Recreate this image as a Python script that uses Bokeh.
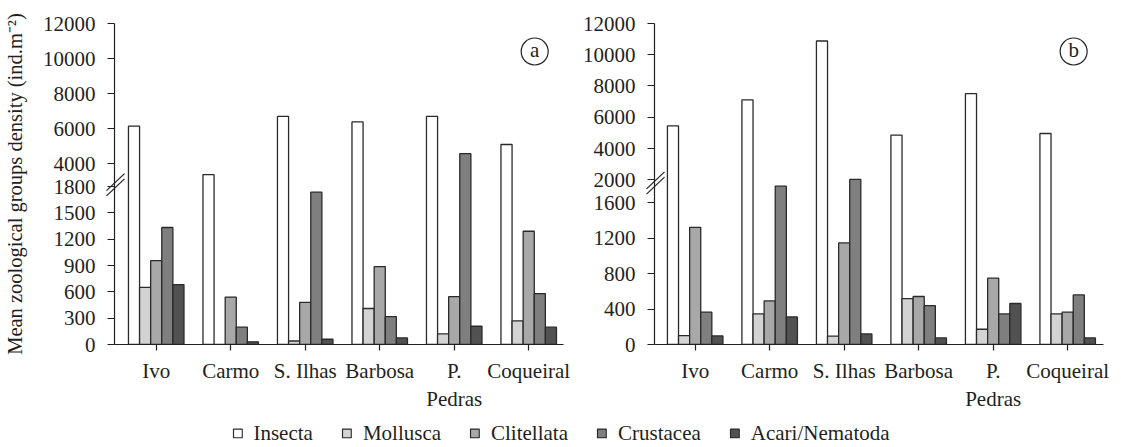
import numpy as np
from bokeh.plotting import figure
from bokeh.models import Range1d, FixedTicker, Legend, LegendItem, ColumnDataSource
from bokeh.layouts import row, column
from bokeh.embed import file_html
from bokeh.resources import INLINE
from bokeh.core.properties import value

# Sampling sites and zoological groups
sites = ["Ivo", "Carmo", "S. Ilhas", "Barbosa", "P. Pedras", "Coqueiral"]
site_labels = ["Ivo", "Carmo", "S. Ilhas", "Barbosa", "P.\nPedras", "Coqueiral"]
groups = ["Insecta", "Mollusca", "Clitellata", "Crustacea", "Acari/Nematoda"]

# Mean density (ind.m-2), panel (a)
insecta_a = [6150, 3380, 6700, 6390, 6700, 5100]
mollusca_a = [650, 0, 40, 410, 120, 270]
clitellata_a = [955, 540, 480, 888, 545, 1290]
crustacea_a = [1333, 197, 1735, 318, 4580, 580]
acari_a = [683, 30, 60, 75, 208, 197]

# Mean density (ind.m-2), panel (b)
insecta_b = [5450, 7110, 10880, 4850, 7510, 4960]
mollusca_b = [100, 345, 94, 518, 172, 345]
clitellata_b = [1320, 491, 1145, 541, 747, 364]
crustacea_b = [364, 1784, 1860, 439, 345, 559]
acari_b = [97, 311, 119, 74, 462, 74]

# Axis ticks of the broken y axes (lower segment / upper segment)
lower_ticks_a = [0, 300, 600, 900, 1200, 1500, 1800]
upper_ticks_a = [4000, 6000, 8000, 10000, 12000]
lower_ticks_b = [0, 400, 800, 1200, 1600]
upper_ticks_b = [2000, 4000, 6000, 8000, 10000, 12000]

colors = ["#ffffff", "#d3d3d3", "#a8a8a8", "#7f7f7f", "#515151"]
FONT = "Liberation Serif"
FSIZE = "21px"
INK = "#231f20"
BAR_W = 0.149
FRAME_W = 449
FRAME_H = 321
UNIT_PX = 74.5


def make_panel(series, tag, lo_ticks, hi_ticks, lo_end, hi_start, split,
               x_start, width, min_left, min_right, ylabel=None):
    p = figure(width=width, height=419,
               x_range=Range1d(x_start, x_start + FRAME_W / UNIT_PX),
               y_range=Range1d(0, lo_end),
               output_backend="svg", toolbar_location=None,
               min_border_left=min_left, min_border_right=min_right,
               min_border_top=23, min_border_bottom=75)
    p.extra_y_ranges = {"upper": Range1d(hi_start, 12000)}
    p.outline_line_color = None
    p.xgrid.visible = False
    p.ygrid.visible = False
    p.background_fill_color = "white"
    p.border_fill_color = "white"

    # bars: values below the break use the lower scale, others the upper one
    for gi, vals in enumerate(series):
        xs = [i + (gi - 2) * BAR_W for i in range(len(vals))]
        lo = dict(x=[x for x, v in zip(xs, vals) if v <= split],
                  top=[v for v in vals if v <= split])
        hi = dict(x=[x for x, v in zip(xs, vals) if v > split],
                  top=[v for v in vals if v > split])
        style = dict(width=BAR_W, fill_color=colors[gi], line_color="#2a2a2a",
                     line_width=1.3)
        if lo["x"]:
            p.vbar(x="x", top="top", bottom=0, source=ColumnDataSource(lo), **style)
        if hi["x"]:
            p.vbar(x="x", top="top", bottom=hi_start, y_range_name="upper",
                   source=ColumnDataSource(hi), **style)

    # y axis: lower ticks plus upper ticks placed on the shared frame
    def to_lower(u):
        return round((u - hi_start) / (12000 - hi_start) * lo_end, 4)

    pos = list(lo_ticks) + [to_lower(u) for u in hi_ticks]
    overrides = {float(t): str(t) for t in lo_ticks}
    overrides.update({to_lower(u): str(u) for u in hi_ticks})
    ax = p.yaxis[0]
    ax.ticker = FixedTicker(ticks=pos)
    ax.major_label_overrides = overrides
    ax.major_tick_in = 0
    ax.major_tick_out = 7
    ax.minor_tick_line_color = None
    ax.major_label_standoff = 12
    if ylabel:
        ax.axis_label = ylabel
        ax.axis_label_text_font = FONT
        ax.axis_label_text_font_size = "20.5px"
        ax.axis_label_text_font_style = "normal"
        ax.axis_label_text_color = INK
        ax.axis_label_standoff = 14

    xa = p.xaxis[0]
    xa.ticker = FixedTicker(ticks=list(range(len(sites))))
    xa.major_label_overrides = {i: s for i, s in enumerate(site_labels)}
    xa.major_tick_in = 0
    xa.major_tick_out = 6
    xa.minor_tick_line_color = None
    xa.major_label_standoff = 8

    for a in (ax, xa):
        a.axis_line_color = INK
        a.axis_line_width = 1.2
        a.major_tick_line_color = INK
        a.major_tick_line_width = 1.2
        a.major_label_text_font = FONT
        a.major_label_text_font_size = FSIZE
        a.major_label_text_color = INK

    # break marks across the y axis
    ypx = lo_end / FRAME_H
    xpx = 1 / UNIT_PX
    yc = 1820
    xc = x_start + 1 * xpx
    x0, x1, y0, y1 = [], [], [], []
    for off in (-2.6, 2.6):
        x0.append(xc - 9 * xpx)
        x1.append(xc + 9 * xpx)
        y0.append(yc - (8.5 + off) * ypx)
        y1.append(yc + (8.5 - off) * ypx)
    p.segment(x0=x0, y0=y0, x1=x1, y1=y1, line_color=INK, line_width=1.2,
              level="overlay")

    # panel tag in a circle
    hpx = (12000 - hi_start) / FRAME_H
    tx = 5 + 0.08
    ty = 12000 - 28 * hpx
    p.scatter(x=[tx], y=[ty], marker="circle", size=27, fill_color="white",
              line_color=INK, line_width=1.2, y_range_name="upper")
    p.text(x=[tx], y=[ty + 1.5 * hpx], text=[tag], text_align="center",
           text_baseline="middle", text_font=value(FONT),
           text_font_size=FSIZE, text_color=INK, y_range_name="upper")
    return p


series_a = [insecta_a, mollusca_a, clitellata_a, crustacea_a, acari_a]
series_b = [insecta_b, mollusca_b, clitellata_b, crustacea_b, acari_b]

pa = make_panel(series_a, "a", lower_ticks_a, upper_ticks_a,
                lo_end=1800 * FRAME_H / 158, hi_start=-6303, split=1800,
                x_start=-0.56, width=572, min_left=114, min_right=9,
                ylabel="Mean zoological groups density (ind.m\u207b\u00b2)")
pb = make_panel(series_b, "b", lower_ticks_b, upper_ticks_b,
                lo_end=400 * FRAME_H / 35.5, hi_start=-8544, split=2000,
                x_start=-0.546, width=549, min_left=82, min_right=18)

# legend strip; swatch renderers hold a NaN point so only the key is drawn
lf = figure(width=1121, height=28, x_range=Range1d(0, 1), y_range=Range1d(0, 1),
            output_backend="svg", toolbar_location=None, min_border=0)
lf.axis.visible = False
lf.xgrid.visible = False
lf.ygrid.visible = False
lf.outline_line_color = None
items = []
for g, c in zip(groups, colors):
    src = ColumnDataSource(dict(x=np.array([np.nan]), top=np.array([np.nan])))
    r = lf.vbar(x="x", top="top", bottom=0, width=0.1, source=src,
                fill_color=c, line_color="#2a2a2a", line_width=1.2)
    items.append(LegendItem(label=g, renderers=[r]))
legend = Legend(items=items, orientation="horizontal", location="center",
                glyph_width=11, glyph_height=11, label_standoff=11, spacing=28,
                padding=0, margin=0, border_line_color=None,
                background_fill_alpha=0, label_text_font=FONT,
                label_text_font_size=FSIZE, label_text_color=INK)
lf.add_layout(legend, "center")

layout = column(row(pa, pb, spacing=0), lf, spacing=0)
open("out.html", "w").write(file_html(layout, INLINE))
